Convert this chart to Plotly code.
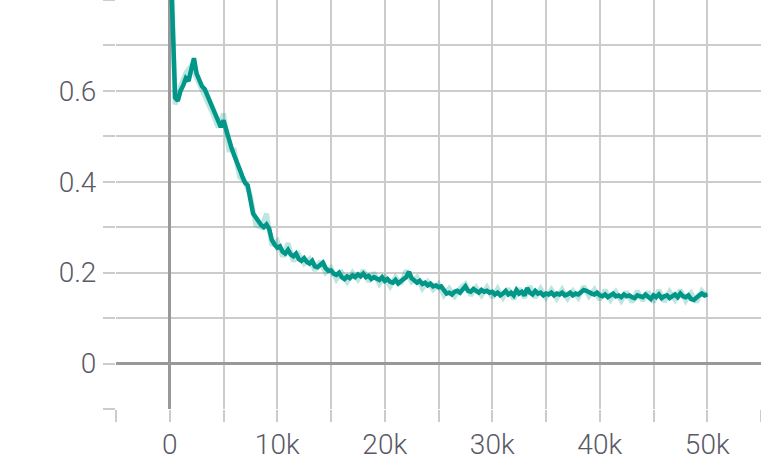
import plotly.graph_objects as go

# steps (x axis) — every 250 steps for smoothed, every 500 for raw
smooth_steps = list(range(0, 50001, 250))
raw_steps = list(range(0, 50001, 500))

smoothed = [
    0.95, 0.74, 0.585, 0.578, 0.600, 0.612, 0.628, 0.622, 0.648, 0.672,
    0.638, 0.622, 0.610, 0.604, 0.590, 0.572, 0.562, 0.548, 0.528, 0.520,
    0.535, 0.512, 0.488, 0.474, 0.458, 0.440, 0.428, 0.412, 0.398, 0.392,
    0.365, 0.330, 0.322, 0.312, 0.305, 0.300, 0.306, 0.296, 0.272, 0.262,
    0.255, 0.258, 0.246, 0.242, 0.250, 0.240, 0.236, 0.242, 0.230, 0.226,
    0.232, 0.224, 0.220, 0.226, 0.214, 0.212, 0.218, 0.222, 0.210, 0.204,
    0.205, 0.198, 0.195, 0.200, 0.190, 0.186, 0.192, 0.188, 0.194, 0.190,
    0.196, 0.192, 0.198, 0.190, 0.193, 0.186, 0.190, 0.188, 0.184, 0.190,
    0.182, 0.186, 0.180, 0.178, 0.184, 0.176, 0.182, 0.186, 0.190, 0.202,
    0.188, 0.184, 0.178, 0.182, 0.175, 0.178, 0.172, 0.176, 0.170, 0.172,
    0.168, 0.170, 0.160, 0.154, 0.156, 0.152, 0.158, 0.160, 0.156, 0.162,
    0.170, 0.160, 0.158, 0.164, 0.160, 0.156, 0.162, 0.158, 0.160, 0.156,
    0.158, 0.152, 0.156, 0.150, 0.154, 0.160, 0.152, 0.156, 0.150, 0.162,
    0.154, 0.158, 0.150, 0.166, 0.156, 0.152, 0.160, 0.154, 0.156, 0.150,
    0.154, 0.152, 0.156, 0.150, 0.154, 0.152, 0.156, 0.150, 0.152, 0.156,
    0.150, 0.154, 0.152, 0.158, 0.162, 0.160, 0.156, 0.154, 0.152, 0.156,
    0.150, 0.148, 0.152, 0.146, 0.150, 0.154, 0.148, 0.150, 0.146, 0.152,
    0.148, 0.150, 0.146, 0.144, 0.150, 0.148, 0.146, 0.152, 0.146, 0.142,
    0.150, 0.146, 0.152, 0.144, 0.148, 0.150, 0.144, 0.148, 0.152, 0.146,
    0.154, 0.148, 0.146, 0.150, 0.142, 0.140, 0.146, 0.150, 0.154, 0.150,
    0.152,
]

raw = [
    0.97, 0.57, 0.61, 0.64, 0.655, 0.63, 0.60, 0.58, 0.55, 0.52,
    0.55, 0.47, 0.47, 0.41, 0.40, 0.37, 0.305, 0.30, 0.33, 0.26,
    0.27, 0.235, 0.265, 0.225, 0.24, 0.22, 0.23, 0.205, 0.225, 0.20,
    0.21, 0.185, 0.20, 0.18, 0.20, 0.185, 0.205, 0.18, 0.20, 0.175,
    0.19, 0.17, 0.19, 0.175, 0.205, 0.18, 0.19, 0.165, 0.18, 0.163,
    0.175, 0.15, 0.165, 0.148, 0.165, 0.175, 0.15, 0.168, 0.15, 0.168,
    0.145, 0.165, 0.145, 0.165, 0.142, 0.165, 0.145, 0.17, 0.145, 0.165,
    0.145, 0.163, 0.143, 0.163, 0.143, 0.16, 0.145, 0.17, 0.148, 0.163,
    0.14, 0.162, 0.14, 0.158, 0.138, 0.158, 0.135, 0.16, 0.138, 0.158,
    0.135, 0.162, 0.136, 0.158, 0.14, 0.162, 0.138, 0.155, 0.135, 0.16,
    0.148,
]

x_tickvals = [0, 10000, 20000, 30000, 40000, 50000]
x_ticktext = ["0", "10k", "20k", "30k", "40k", "50k"]
y_tickvals = [0, 0.2, 0.4, 0.6]
y_ticktext = ["0", "0.2", "0.4", "0.6"]

LINE = "#009688"
GRID = "#cccccc"
ZERO = "#999999"
FONT = dict(family="Roboto", size=28, color="#5a5a66", weight=300)

fig = go.Figure()
fig.add_trace(go.Scatter(x=raw_steps, y=raw, mode="lines",
                         line=dict(color="rgba(0,150,136,0.25)", width=5),
                         hoverinfo="skip", showlegend=False))
fig.add_trace(go.Scatter(x=smooth_steps, y=smoothed, mode="lines",
                         line=dict(color=LINE, width=4.5),
                         showlegend=False))

fig.update_layout(
    width=761, height=461,
    margin=dict(l=116, r=0, t=0, b=52, pad=0),
    paper_bgcolor="white", plot_bgcolor="white",
    font=FONT,
)
fig.update_xaxes(
    range=[-5000, 55000], automargin=False,
    tickvals=x_tickvals, ticktext=x_ticktext,
    ticks="outside", ticklen=12, tickwidth=2, tickcolor=GRID,
    showgrid=True, gridcolor=GRID, gridwidth=2,
    zeroline=True, zerolinecolor=ZERO, zerolinewidth=3,
    minor=dict(dtick=5000, tick0=0, showgrid=True, gridcolor=GRID, gridwidth=2,
               ticks="outside", ticklen=12, tickwidth=2, tickcolor=GRID),
    showline=False, tickfont=FONT, ticklabelstandoff=-2,
)
fig.update_yaxes(
    range=[-0.1, 0.8], automargin=False,
    tickvals=y_tickvals, ticktext=y_ticktext,
    ticks="outside", ticklen=12, tickwidth=2, tickcolor=GRID,
    showgrid=True, gridcolor=GRID, gridwidth=2,
    zeroline=True, zerolinecolor=ZERO, zerolinewidth=3,
    minor=dict(dtick=0.1, tick0=0, showgrid=True, gridcolor=GRID, gridwidth=2,
               ticks="outside", ticklen=12, tickwidth=2, tickcolor=GRID),
    showline=False, tickfont=FONT, ticklabelstandoff=1,
)

fig.write_html("out.html", config={"displayModeBar": False},
               post_script="document.body.style.margin='0';document.body.style.overflow='hidden';")
